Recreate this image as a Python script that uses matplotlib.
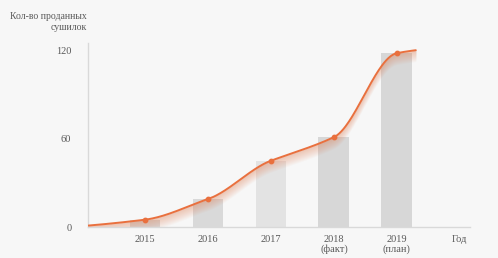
import numpy as np
import matplotlib.pyplot as plt

# chart data
years = ["2015", "2016", "2017", "2018\n(факт)", "2019\n(план)"]
sold = [5, 19, 45, 61, 118]
axis_end_label = "Год"
# curve runs from left edge to a bit past the last bar
curve_start = (-0.9, 1)
curve_end = (4.3, 120)
yticks = [0, 60, 120]
ylabel = "Кол-во проданных\nсушилок"

BG = "#f7f7f7"
ORANGE = "#e9703e"
GREY_TXT = "#595959"
FONT = "Liberation Serif"


def smooth_curve(px, py, soften=0.8, n=60):
    """Monotone cubic Hermite curve through points (rendering only)."""
    px = np.asarray(px, float)
    py = np.asarray(py, float)
    h = np.diff(px)
    d = np.diff(py) / h
    m = np.zeros_like(py)
    m[0], m[-1] = d[0], d[-1]
    for i in range(1, len(px) - 1):
        if d[i - 1] * d[i] > 0:
            w1 = 2 * h[i] + h[i - 1]
            w2 = h[i] + 2 * h[i - 1]
            m[i] = (w1 + w2) / (w1 / d[i - 1] + w2 / d[i])
    m *= soften
    xs, ys = [], []
    for i in range(len(px) - 1):
        t = np.linspace(0, 1, n)
        h00 = 2 * t ** 3 - 3 * t ** 2 + 1
        h10 = t ** 3 - 2 * t ** 2 + t
        h01 = -2 * t ** 3 + 3 * t ** 2
        h11 = t ** 3 - t ** 2
        xs.append(px[i] + t * h[i])
        ys.append(h00 * py[i] + h10 * h[i] * m[i]
                  + h01 * py[i + 1] + h11 * h[i] * m[i + 1])
    return np.concatenate(xs), np.concatenate(ys)


fig = plt.figure(figsize=(4.98, 2.58), dpi=100, facecolor=BG)
ax = fig.add_axes([0.1767, 0.12, 0.767, 0.714])
ax.set_facecolor(BG)

x = np.arange(len(years))
bar_colors = ["#d9d9d9", "#d9d9d9", "#e3e3e3", "#d7d7d7", "#d7d7d7"]
ax.bar(x, sold, width=0.49, color=bar_colors, zorder=1)

cx = [curve_start[0]] + list(x) + [curve_end[0]]
cy = [curve_start[1]] + sold + [curve_end[1]]
sx, sy = smooth_curve(cx, cy)

# soft orange glow under the line
for k in range(11):
    low = np.clip(sy - (k + 1) * 0.7, 0, None)
    ax.fill_between(sx, low, sy, color=ORANGE, alpha=0.035, lw=0, zorder=2)

ax.plot(sx, sy, color=ORANGE, lw=1.4, zorder=3, solid_capstyle="round")
ax.scatter(x, sold, s=10, color=ORANGE, zorder=4)

ax.set_xlim(-0.905, 5.16)
ax.set_ylim(0, 125)
ax.set_xticks(list(x) + [5])
ax.set_xticklabels(years + [axis_end_label], fontfamily=FONT, fontsize=7.5,
                   color=GREY_TXT, linespacing=1.0)
ax.set_yticks(yticks)
ax.set_yticklabels([str(v) for v in yticks], fontfamily=FONT, fontsize=7.5,
                   color=GREY_TXT)
ax.tick_params(axis="both", length=0)
ax.tick_params(axis="x", pad=6)
ax.tick_params(axis="y", pad=12)

for side in ("top", "right"):
    ax.spines[side].set_visible(False)
for side in ("left", "bottom"):
    ax.spines[side].set_color("#d9d9d9")
    ax.spines[side].set_linewidth(1.0)

fig.text(0.174, 0.955, ylabel, ha="right", va="top", multialignment="right",
         fontfamily=FONT, fontsize=7, color=GREY_TXT, linespacing=1.3)

fig.savefig("out.png", dpi=100, facecolor=BG)
